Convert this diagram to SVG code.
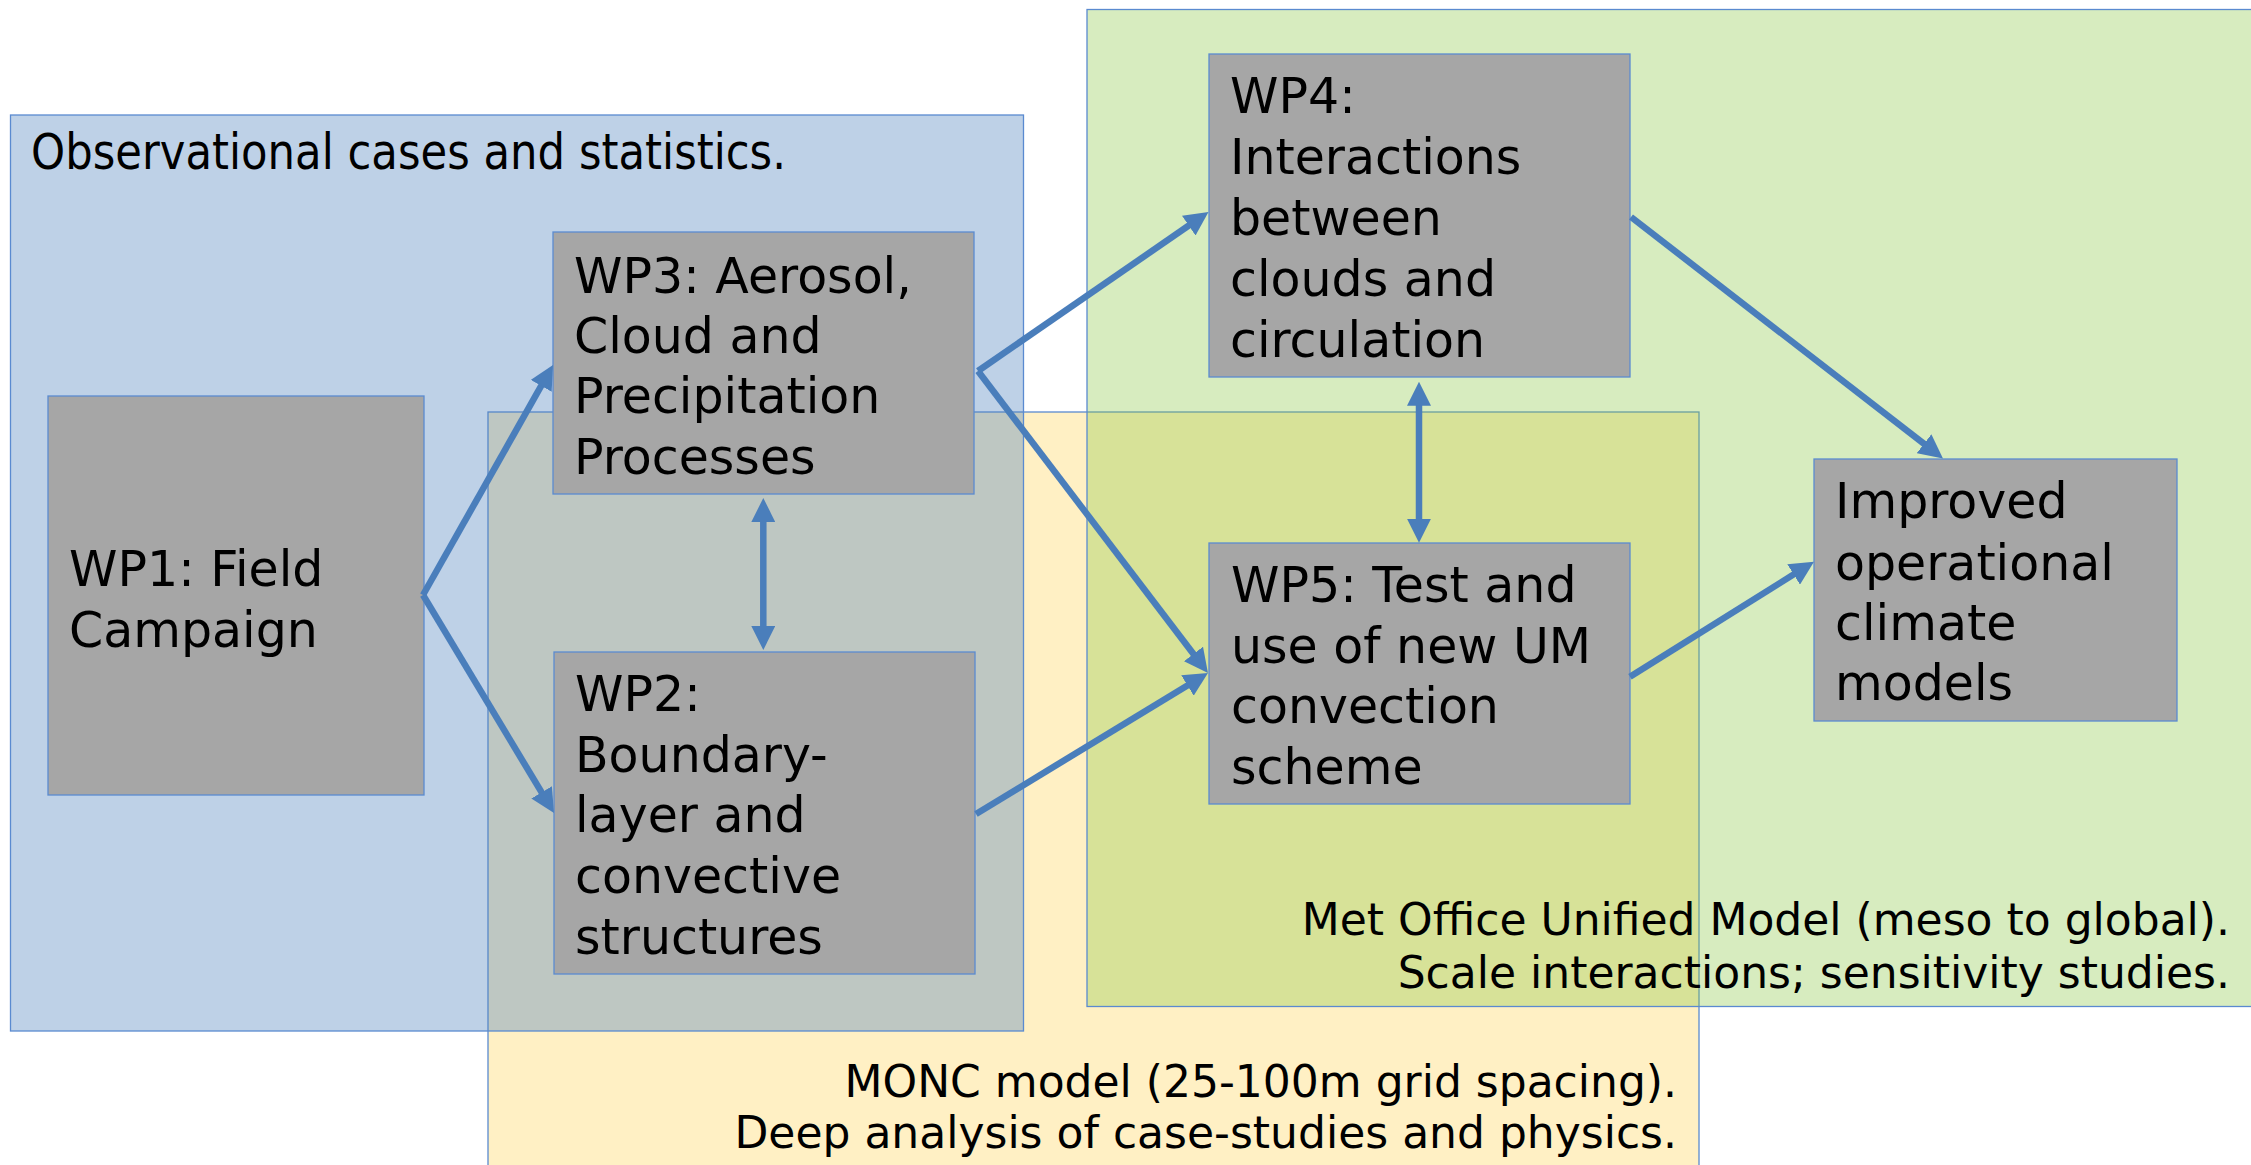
<svg xmlns="http://www.w3.org/2000/svg" width="2251" height="1165" viewBox="0 0 2251 1165">
  <style>
    .region { stroke: #5A8AD0; stroke-width: 1.3; }
    .node rect { fill: #A6A6A6; stroke: #5B8BD0; stroke-width: 1.3; }
    .label { font-family: "DejaVu Sans", Verdana, sans-serif; font-size: 49px; fill: #000; }
    .note { font-family: "DejaVu Sans", Verdana, sans-serif; font-size: 44px; fill: #000; }
    .conn { stroke: #4A7EBB; stroke-width: 6.5; fill: none; marker-end: url(#head); }
    .conn2 { stroke: #4A7EBB; stroke-width: 6.5; fill: none; marker-start: url(#head); marker-end: url(#head); }
  </style>
  <defs>
    <marker id="head" markerUnits="userSpaceOnUse" markerWidth="24" markerHeight="24" refX="12" refY="12" orient="auto-start-reverse" viewBox="0 0 24 24">
      <path d="M0,0 L24,12 L0,24 z" fill="#4A7EBB"/>
    </marker>
  </defs>

  <rect width="2251" height="1165" fill="#FFFFFF"/>

  <!-- Modelling and observation domains (translucent, overlapping) -->
  <g id="region-monc">
    <rect class="region" x="488" y="412" width="1211" height="770" fill="#FFF0C4"/>
    <text class="note" x="1677" y="1097" text-anchor="end">MONC model (25-100m grid spacing).</text>
    <text class="note" x="1677" y="1148" text-anchor="end">Deep analysis of case-studies and physics.</text>
  </g>
  <g id="region-obs">
    <rect class="region" x="10.5" y="115" width="1013" height="916" fill="#4F81BD" fill-opacity="0.37"/>
    <text class="label" x="31" y="169" font-size="47" textLength="755" lengthAdjust="spacingAndGlyphs">Observational cases and statistics.</text>
  </g>
  <g id="region-um">
    <rect class="region" x="1087" y="9.5" width="1180" height="997" fill="#8AC844" fill-opacity="0.34"/>
    <text class="note" x="2230" y="935" text-anchor="end">Met Office Unified Model (meso to global).</text>
    <text class="note" x="2230" y="988" text-anchor="end">Scale interactions; sensitivity studies.</text>
  </g>

  <!-- Work packages -->
  <g id="wp1" class="node">
    <rect x="48" y="396" width="376" height="399"/>
    <text class="label" x="69" y="586">WP1: Field</text>
    <text class="label" x="69" y="647">Campaign</text>
  </g>
  <g id="wp3" class="node">
    <rect x="553" y="232" width="421" height="262"/>
    <text class="label" x="574" y="293">WP3: Aerosol,</text>
    <text class="label" x="574" y="353">Cloud and</text>
    <text class="label" x="574" y="413">Precipitation</text>
    <text class="label" x="574" y="474">Processes</text>
  </g>
  <g id="wp2" class="node">
    <rect x="554" y="652" width="421" height="322"/>
    <text class="label" x="575" y="711">WP2:</text>
    <text class="label" x="575" y="772">Boundary-</text>
    <text class="label" x="575" y="832">layer and</text>
    <text class="label" x="575" y="893">convective</text>
    <text class="label" x="575" y="954">structures</text>
  </g>
  <g id="wp4" class="node">
    <rect x="1209" y="54" width="421" height="323"/>
    <text class="label" x="1230" y="113">WP4:</text>
    <text class="label" x="1230" y="174">Interactions</text>
    <text class="label" x="1230" y="235">between</text>
    <text class="label" x="1230" y="296">clouds and</text>
    <text class="label" x="1230" y="357">circulation</text>
  </g>
  <g id="wp5" class="node">
    <rect x="1209" y="543" width="421" height="261"/>
    <text class="label" x="1231" y="602">WP5: Test and</text>
    <text class="label" x="1231" y="663">use of new UM</text>
    <text class="label" x="1231" y="723">convection</text>
    <text class="label" x="1231" y="784">scheme</text>
  </g>
  <g id="improved" class="node">
    <rect x="1814" y="459" width="363" height="262"/>
    <text class="label" x="1835" y="518">Improved</text>
    <text class="label" x="1835" y="580">operational</text>
    <text class="label" x="1835" y="640">climate</text>
    <text class="label" x="1835" y="700">models</text>
  </g>

  <!-- Connectors -->
  <g id="connectors">
    <line class="conn" x1="423" y1="595" x2="547.1" y2="375.4"/>
    <line class="conn" x1="423" y1="595" x2="547.8" y2="802.7"/>
    <line class="conn2" x1="763.3" y1="510" x2="763.3" y2="638"/>
    <line class="conn" x1="978" y1="371" x2="1198.6" y2="218.8"/>
    <line class="conn" x1="978" y1="371" x2="1200.7" y2="663.5"/>
    <line class="conn" x1="976" y1="814" x2="1197.7" y2="679.2"/>
    <line class="conn2" x1="1419" y1="393.7" x2="1419" y2="530.7"/>
    <line class="conn" x1="1631" y1="217" x2="1933.5" y2="451.1"/>
    <line class="conn" x1="1630" y1="676.7" x2="1803.8" y2="568.1"/>
  </g>
</svg>
